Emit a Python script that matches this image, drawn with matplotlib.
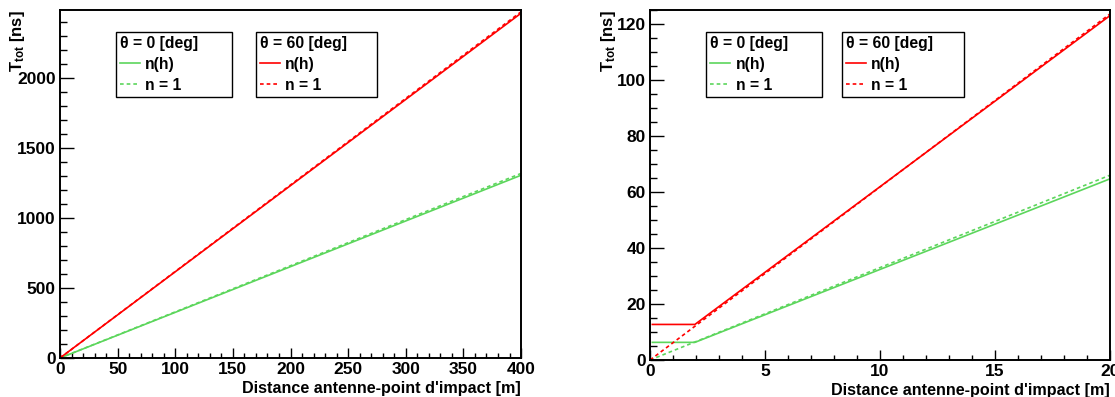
import numpy as np
import matplotlib as mpl
mpl.use("Agg")
import matplotlib.pyplot as plt
from matplotlib.ticker import MultipleLocator
from matplotlib.lines import Line2D

plt.rcParams["font.family"] = ["Liberation Sans", "DejaVu Sans"]
plt.rcParams["font.weight"] = "bold"
plt.rcParams["mathtext.fontset"] = "custom"
plt.rcParams["mathtext.rm"] = "Liberation Sans:bold"
plt.rcParams["mathtext.bf"] = "Liberation Sans:bold"
plt.rcParams["mathtext.it"] = "Liberation Sans:bold"

# --- donnees (distance en m, temps en ns) ---
# panneau gauche : 0-400 m
dist_nh_wide = [0.1, 2.0, 400.0]
dist_n1_wide = [0.0, 400.0]
t0_nh_wide = [6.3, 6.3, 1305.0]
t0_n1_wide = [0.0, 1318.0]
t60_nh_wide = [12.7, 12.7, 2462.0]
t60_n1_wide = [0.0, 2472.0]

# panneau droit : zoom 0-20 m
dist_nh_zoom = [0.1, 1.95, 20.0]
dist_n1_zoom = [0.0, 20.0]
t0_nh_zoom = [6.3, 6.3, 64.7]
t0_n1_zoom = [0.0, 66.0]
t60_nh_zoom = [12.7, 12.7, 123.0]
t60_n1_zoom = [0.0, 123.6]

GREEN = "#5cd65c"
RED = "#ff0000"
DASH = (0, (2.2, 1.8))
XLABEL = "Distance antenne-point d'impact [m]"
YLABEL = r"$T_{tot}$ [ns]"


def style_axis(ax, xlim, ylim, xmaj, xmin, ymaj, ymin, ylab_x):
    ax.set_xlim(*xlim)
    ax.set_ylim(*ylim)
    ax.xaxis.set_major_locator(MultipleLocator(xmaj))
    ax.xaxis.set_minor_locator(MultipleLocator(xmin))
    ax.yaxis.set_major_locator(MultipleLocator(ymaj))
    ax.yaxis.set_minor_locator(MultipleLocator(ymin))
    ax.tick_params(axis="x", which="major", direction="in", length=7.5, width=1.0,
                   labelsize=12.5, pad=3, top=False)
    ax.tick_params(axis="x", which="minor", direction="in", length=3.8, width=1.0, top=False)
    ax.tick_params(axis="y", which="major", direction="in", length=10, width=1.0,
                   labelsize=12.5, pad=3, right=False)
    ax.tick_params(axis="y", which="minor", direction="in", length=5, width=1.0, right=False)
    for lab in ax.get_xticklabels() + ax.get_yticklabels():
        lab.set_fontweight("bold")
    for spine in ax.spines.values():
        spine.set_linewidth(1.4)
        spine.set_color("black")
    ax.set_xlabel(XLABEL, fontsize=11.6, fontweight="bold", loc="right")
    ax.xaxis.set_label_coords(1.0, -0.065)
    ax.set_ylabel(YLABEL, fontsize=12, fontweight="bold", loc="top")
    ax.yaxis.set_label_coords(ylab_x, 1.0)


def add_legends(ax, x1, w1, x2, w2):
    common = dict(loc="upper left", mode="expand", fancybox=False, edgecolor="black",
                  framealpha=1, borderaxespad=0, borderpad=0.25, handlelength=1.27,
                  handletextpad=0.35, labelspacing=0.38, alignment="left",
                  prop={"weight": "bold", "size": 11.3},
                  title_fontproperties={"weight": "bold", "size": 11.3})
    h0 = [Line2D([], [], color=GREEN, lw=1.2), Line2D([], [], color=GREEN, lw=1.2, ls=DASH)]
    h60 = [Line2D([], [], color=RED, lw=1.2), Line2D([], [], color=RED, lw=1.2, ls=DASH)]
    leg1 = ax.legend(h0, ["n(h)", "n = 1"], title="θ = 0 [deg]",
                     bbox_to_anchor=(x1, 0.747, w1, 0.19), **common)
    leg1.get_frame().set_linewidth(1.0)
    ax.add_artist(leg1)
    leg2 = ax.legend(h60, ["n(h)", "n = 1"], title="θ = 60 [deg]",
                     bbox_to_anchor=(x2, 0.747, w2, 0.19), **common)
    leg2.get_frame().set_linewidth(1.0)


fig = plt.figure(figsize=(11.15, 3.97), dpi=100)
ax1 = fig.add_axes([0.0538, 0.0982, 0.4135, 0.8766])
ax2 = fig.add_axes([0.5830, 0.0932, 0.4125, 0.8816])

ax1.plot(dist_nh_wide, t0_nh_wide, color=GREEN, lw=1.2)
ax1.plot(dist_n1_wide, t0_n1_wide, color=GREEN, lw=1.2, ls=DASH)
ax1.plot(dist_nh_wide, t60_nh_wide, color=RED, lw=1.2)
ax1.plot(dist_n1_wide, t60_n1_wide, color=RED, lw=1.2, ls=DASH)
style_axis(ax1, (0, 400), (0, 2485), 50, 10, 500, 100, -0.072)
add_legends(ax1, 0.121, 0.252, 0.425, 0.263)

ax2.plot(dist_nh_zoom, t0_nh_zoom, color=GREEN, lw=1.2)
ax2.plot(dist_n1_zoom, t0_n1_zoom, color=GREEN, lw=1.2, ls=DASH)
ax2.plot(dist_nh_zoom, t60_nh_zoom, color=RED, lw=1.2)
ax2.plot(dist_n1_zoom, t60_n1_zoom, color=RED, lw=1.2, ls=DASH)
style_axis(ax2, (0, 20), (0, 125), 5, 1, 20, 5, -0.070)
add_legends(ax2, 0.122, 0.252, 0.417, 0.266)

fig.savefig("out.png", dpi=100, facecolor="white")
